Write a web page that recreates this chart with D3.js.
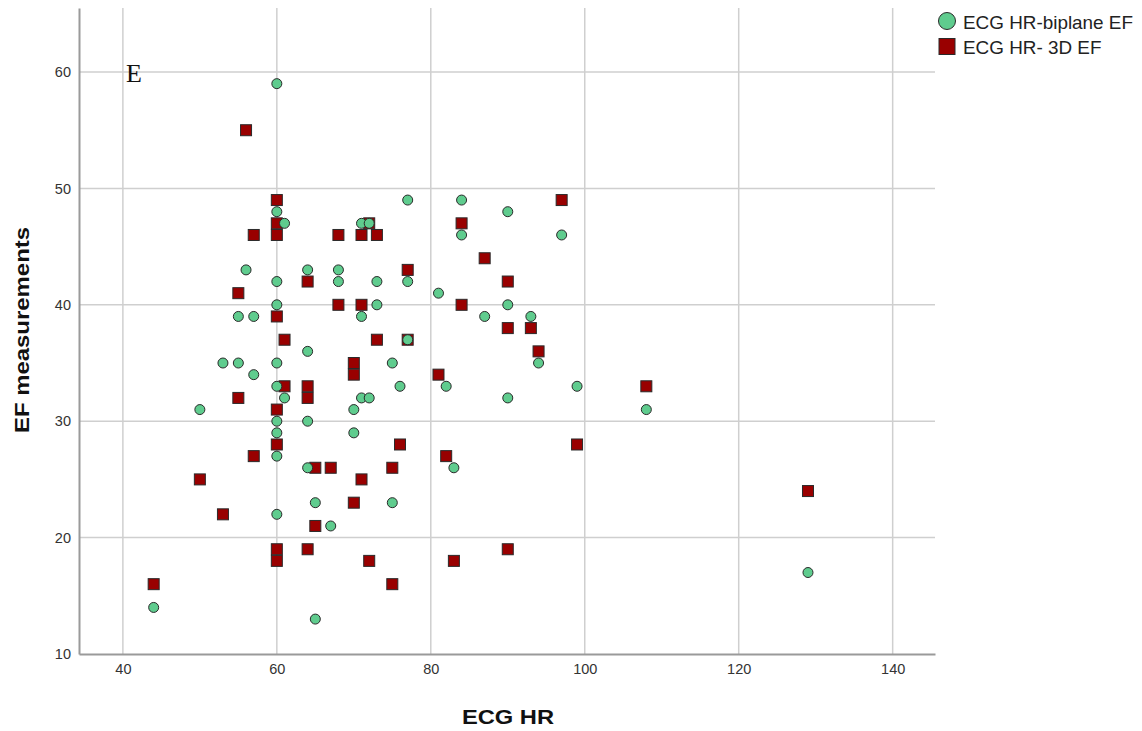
<!DOCTYPE html>
<html lang="en">
<head>
  <meta charset="UTF-8">
  <title>ECG HR vs EF</title>
  <script src="https://cdn.jsdelivr.net/npm/d3@7"></script>
  <style>
    body { margin: 0; background: #fff; }
    text { font-family: Arial, "Liberation Sans", sans-serif; }
  </style>
</head>
<body>
<svg id="chart"></svg>
<script>
  // [ECG HR, EF] pairs
  const biplaneEF = [
    [60,59],[60,48],[61,47],[56,43],[60,42],[64,43],[68,43],[68,42],[55,39],[57,39],
    [60,40],[71,47],[72,47],[77,49],[71,39],[73,40],[73,42],[77,42],[77,37],[84,49],
    [84,46],[90,48],[97,46],[81,41],[87,39],[90,40],[93,39],[53,35],[55,35],[57,34],
    [60,35],[64,36],[75,35],[94,35],[50,31],[60,33],[61,32],[60,30],[60,29],[60,27],
    [64,30],[70,31],[70,29],[71,32],[72,32],[76,33],[82,33],[90,32],[99,33],[108,31],
    [64,26],[65,23],[67,21],[75,23],[83,26],[60,22],[44,14],[65,13],[129,17]
  ];
  const threeDEF = [
    [56,55],[60,49],[60,47],[60,46],[57,46],[68,46],[71,46],[73,46],[72,47],[84,47],
    [97,49],[87,44],[77,43],[64,42],[55,41],[68,40],[71,40],[84,40],[90,42],[60,39],
    [61,37],[73,37],[77,37],[90,38],[93,38],[94,36],[70,35],[70,34],[81,34],[55,32],
    [61,33],[64,33],[64,32],[60,31],[60,28],[57,27],[76,28],[82,27],[99,28],[108,33],
    [50,25],[53,22],[65,26],[67,26],[71,25],[70,23],[75,26],[65,21],[64,19],[60,19],
    [60,18],[72,18],[75,16],[83,18],[90,19],[44,16],[129,24]
  ];
  const xTicks = [40, 60, 80, 100, 120, 140];
  const yTicks = [10, 20, 30, 40, 50, 60];
  const legendItems = ['ECG HR-biplane EF', 'ECG HR- 3D EF'];

  const width = 1142, height = 731;
  const green = '#5fcc8e', red = '#990000';

  const svg = d3.select('#chart')
    .attr('width', width)
    .attr('height', height);

  const x = d3.scaleLinear().domain([34.3, 145.5]).range([79, 935]);
  const y = d3.scaleLinear().domain([10, 65.5]).range([654, 8]);

  // grid
  svg.append('g')
    .selectAll('line')
    .data(xTicks)
    .join('line')
    .attr('x1', d => x(d)).attr('x2', d => x(d))
    .attr('y1', y.range()[1]).attr('y2', y.range()[0])
    .attr('stroke', '#cfcfcf')
    .attr('stroke-width', 1.5);

  svg.append('g')
    .selectAll('line')
    .data(yTicks.filter(d => d > 10))
    .join('line')
    .attr('x1', x.range()[0]).attr('x2', x.range()[1])
    .attr('y1', d => y(d)).attr('y2', d => y(d))
    .attr('stroke', '#cfcfcf')
    .attr('stroke-width', 1.5);

  // axes
  const xAxis = svg.append('g')
    .attr('transform', `translate(0,${y.range()[0]})`)
    .call(d3.axisBottom(x).tickValues(xTicks).tickSize(0).tickPadding(10));
  xAxis.select('.domain').attr('stroke', '#9a9a9a').attr('stroke-width', 2);
  xAxis.selectAll('text').attr('font-size', 14.5).attr('fill', '#333');

  const yAxis = svg.append('g')
    .attr('transform', `translate(${x.range()[0]},0)`)
    .call(d3.axisLeft(y).tickValues(yTicks).tickSize(0).tickPadding(8));
  yAxis.select('.domain').attr('stroke', '#9a9a9a').attr('stroke-width', 2);
  yAxis.selectAll('text').attr('font-size', 14.5).attr('fill', '#333');

  // axis titles (a bit wider than plain Arial, as in the source)
  svg.append('text')
    .attr('transform', 'translate(508,724) scale(1.13,1)')
    .attr('text-anchor', 'middle')
    .attr('font-size', 21).attr('font-weight', 'bold')
    .attr('fill', '#111')
    .text('ECG HR');

  svg.append('text')
    .attr('transform', 'translate(29,330) rotate(-90) scale(1.14,1)')
    .attr('text-anchor', 'middle')
    .attr('font-size', 21).attr('font-weight', 'bold')
    .attr('fill', '#111')
    .text('EF measurements');

  // panel letter
  svg.append('text')
    .attr('x', 126).attr('y', 82)
    .style('font-family', '"Liberation Serif", "Times New Roman", serif')
    .attr('font-size', 26)
    .attr('fill', '#111')
    .text('E');

  // points: squares first, circles on top
  const sq = 11;
  svg.append('g')
    .selectAll('rect')
    .data(threeDEF)
    .join('rect')
    .attr('x', d => x(d[0]) - sq / 2)
    .attr('y', d => y(d[1]) - sq / 2)
    .attr('width', sq).attr('height', sq)
    .attr('fill', red)
    .attr('stroke', '#2a2a2a')
    .attr('stroke-width', 1);

  svg.append('g')
    .selectAll('circle')
    .data(biplaneEF)
    .join('circle')
    .attr('cx', d => x(d[0]))
    .attr('cy', d => y(d[1]))
    .attr('r', 5)
    .attr('fill', green)
    .attr('stroke', '#2a2a2a')
    .attr('stroke-width', 1);

  // legend
  const legend = svg.append('g').attr('transform', 'translate(947,21)');
  legend.append('circle')
    .attr('cx', 0).attr('cy', 0).attr('r', 8.5)
    .attr('fill', green).attr('stroke', '#2a2a2a');
  legend.append('rect')
    .attr('x', -8).attr('y', 17.5).attr('width', 16).attr('height', 16)
    .attr('fill', red).attr('stroke', '#2a2a2a');
  legend.selectAll('text')
    .data(legendItems)
    .join('text')
    .attr('transform', (d, i) => `translate(16,${i * 25 + 8}) scale(1.05,1)`)
    .attr('font-size', 18)
    .attr('fill', '#222')
    .text(d => d);
</script>
</body>
</html>
